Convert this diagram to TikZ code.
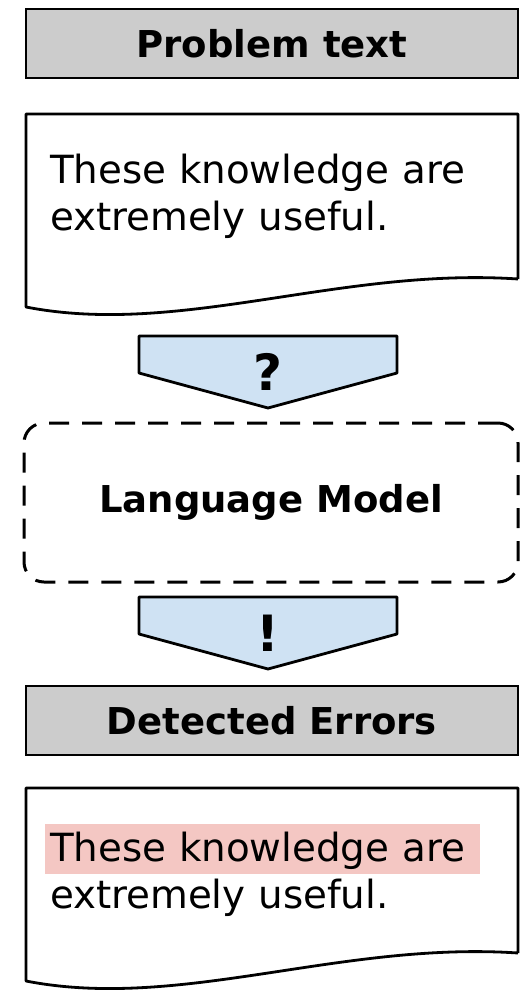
\documentclass[tikz,border=0pt]{standalone}
\usepackage{fontspec}
\setmainfont{DejaVu Sans}
\usepackage{xcolor}
\usetikzlibrary{
  positioning,
  calc,
  backgrounds
}
\definecolor{headgray}{RGB}{204,204,204}
\definecolor{flowblue}{RGB}{207,226,243}
\definecolor{errorred}{RGB}{244,199,195}
\setlength{\fboxsep}{0pt}
\newcommand{\docoutline}[1]{%
  \draw[docline] (#1.south east) -- (#1.north east) -- (#1.north west)
    -- ($(#1.south west)+(0,-28pt)$)
    .. controls +(154pt,-30pt) and +(-178pt,12pt) .. (#1.south east);}
\newcommand{\signoutline}[1]{%
  \draw[signfill] (#1.north west) -- (#1.north east) -- ++(0,-37pt)
    -- (#1.south) -- ($(#1.north west)+(0,-37pt)$) -- cycle;}
\tikzset{
  headbox/.style={
    draw,
    line width=2.8pt,
    fill=headgray,
    minimum width=492pt,
    minimum height=69pt,
    inner sep=0pt,
    outer sep=0pt,
    font=\fontsize{37}{44}\selectfont\bfseries
  },
  docbox/.style={
    text width=444pt,
    minimum height=165pt,
    inner xsep=24pt,
    inner ysep=0pt,
    outer sep=0pt,
    align=left,
    font=\fontsize{38.8}{47}\selectfont
  },
  docline/.style={line width=2.8pt,line join=round},
  modelbox/.style={
    draw,
    dash pattern=on 20pt off 13pt,
    line width=3pt,
    rounded corners=20pt,
    minimum width=494pt,
    minimum height=159pt,
    outer sep=0pt,
    font=\fontsize{37}{44}\selectfont\bfseries
  },
  flowsign/.style={
    minimum width=258pt,
    minimum height=72pt,
    inner sep=0pt,
    outer sep=0pt,
    font=\fontsize{50}{50}\selectfont\bfseries
  },
  signfill/.style={draw,line width=2.8pt,fill=flowblue,line join=round}
}
\begin{document}
\begin{tikzpicture}
  \useasboundingbox (0,0) rectangle (520pt,-991pt);
  \node[headbox] (probhead) at (272pt,-43.5pt) {Problem text};
  \node[docbox,below=36pt of probhead] (probdoc) {These knowledge are\\extremely useful.};
  \node[flowsign,below=57pt of probdoc,xshift=-4pt] (askflow) {?};
  \node[modelbox,below=15pt of askflow,xshift=3pt] (model) {Language Model};
  \node[flowsign,below=15pt of model,xshift=-3pt] (answerflow) {!};
  \node[headbox,below=17pt of answerflow,xshift=4pt] (errhead) {Detected Errors};
  \node[docbox,below=33pt of errhead] (errdoc) {\hspace*{-5pt}\colorbox{errorred}{\rule[-12pt]{0pt}{50pt}\hspace{5pt}These knowledge are\hspace{15pt}}\\extremely useful.};
  \docoutline{probdoc}
  \docoutline{errdoc}
  \begin{scope}[on background layer]
    \signoutline{askflow}
    \signoutline{answerflow}
  \end{scope}
\end{tikzpicture}
\end{document}
